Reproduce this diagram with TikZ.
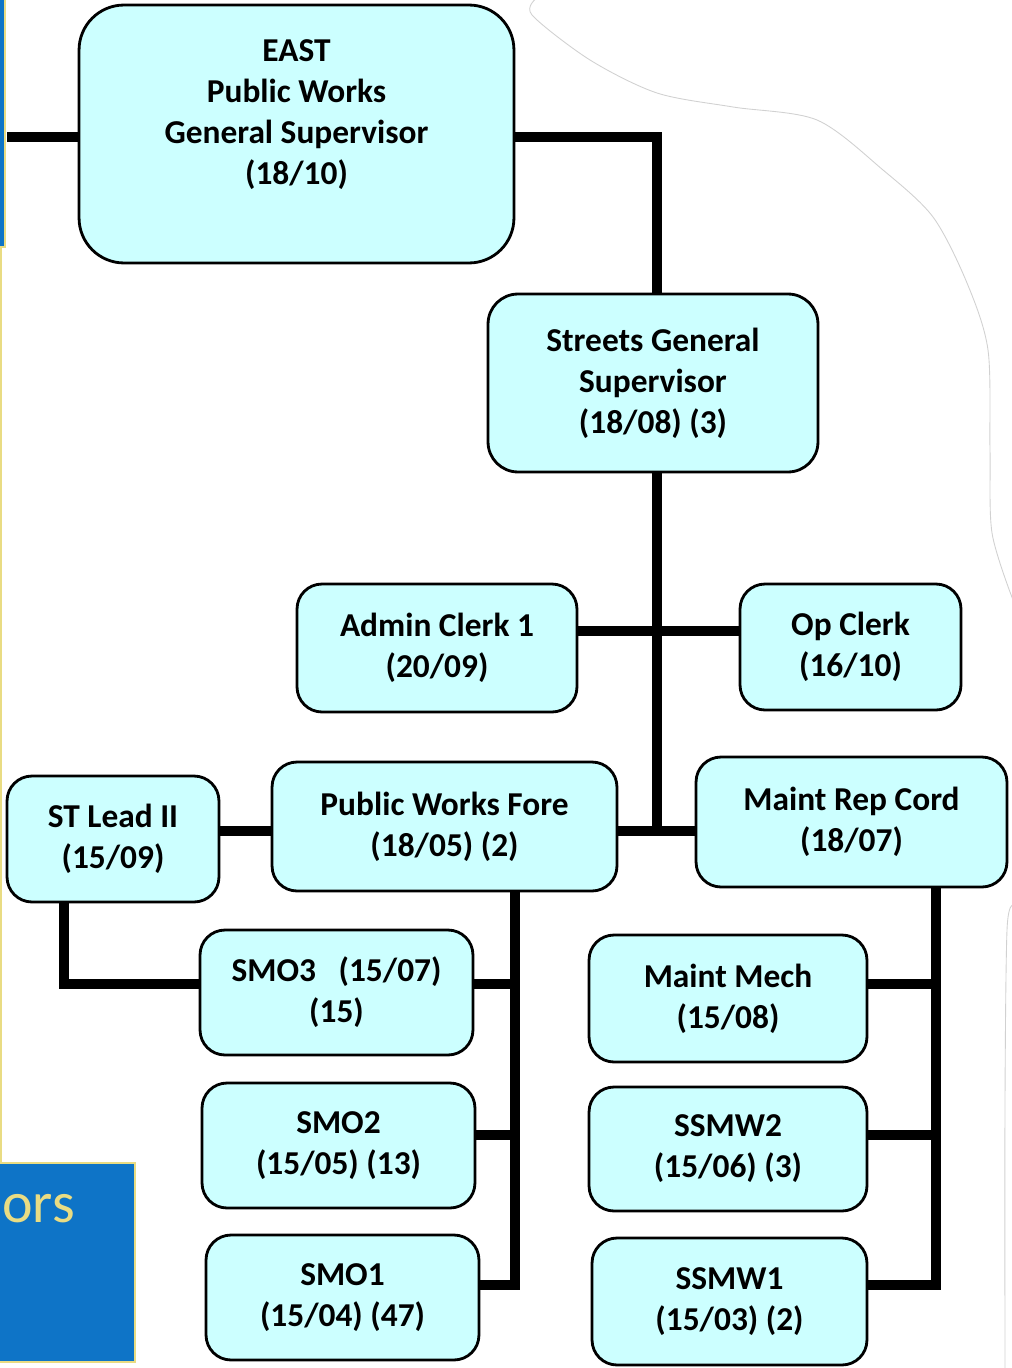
\documentclass[tikz,border=0pt]{standalone}
\usepackage{fontspec}
\setmainfont{Carlito}
\definecolor{postfill}{HTML}{CCFFFF}
\definecolor{slideblue}{HTML}{0E74C7}
\definecolor{slidegold}{HTML}{E9DC83}
\tikzset{
  post/.style={draw=black, line width=1.6pt, fill=postfill, rounded corners=0.5cm,
    align=center, inner sep=0pt, font=\bfseries\fontsize{19}{23.3}\selectfont},
  wire/.style={line width=5.6pt},
}

\begin{document}
\begin{tikzpicture}[x=0.02cm, y=-0.02cm]
\useasboundingbox (0,0) rectangle (1011,1368);

\filldraw[fill=slideblue, draw=slidegold, line width=0.8pt] (-3,-3) rectangle (5,247); % slide bar, top
\draw[slidegold, line width=0.9pt] (1,247) -- (1,1163); % slide edge
\filldraw[fill=slideblue, draw=slidegold, line width=1pt] (-3,1163) rectangle (135,1362); % slide title box
\node[font=\fontsize{33}{40}\selectfont, text=slidegold, anchor=base west, inner sep=0pt] (orsword) at (2,1222) {ors}; % cut title

\draw[black!18, line width=0.5pt] plot[smooth] coordinates {(537,-2) (532,15) (590,60) (657,93) (733,107) (817,120) (883,170) (933,217) (967,283) (988,350) (990,450) (992,533) (1013,600)}; % torn edge, top
\draw[black!18, line width=0.5pt] plot[smooth] coordinates {(1013,905) (1007,930) (1005,1100) (1005,1370)}; % torn edge, bottom

\node[post, minimum width=8.7cm, minimum height=5.16cm, rounded corners=0.9cm, text depth=25pt] (east) at (296.5,134) {EAST\\Public Works\\General Supervisor\\(18/10)}; % top post
\node[post, minimum width=6.6cm, minimum height=3.56cm, rounded corners=0.6cm] (streets) at (653,383) {Streets General\\Supervisor\\(18/08) (3)}; % streets
\node[post, minimum width=5.6cm, minimum height=2.56cm] (admin) at (437,648) {Admin Clerk 1\\(20/09)}; % admin clerk
\node[post, minimum width=4.42cm, minimum height=2.52cm] (opclerk) at (850.5,647) {Op Clerk\\(16/10)}; % op clerk
\node[post, minimum width=4.24cm, minimum height=2.52cm] (stlead) at (113,839) {ST Lead II\\(15/09)}; % lead
\node[post, minimum width=6.9cm, minimum height=2.58cm] (pwfore) at (444.5,826.5) {Public Works Fore\\(18/05) (2)}; % foreman
\node[post, minimum width=6.22cm, minimum height=2.6cm] (maintrep) at (851.5,822) {Maint Rep Cord\\(18/07)}; % maint coordinator

\node[post, minimum width=5.46cm, minimum height=2.5cm] (smo3) at (336.5,992.5) {SMO3~~~(15/07)\\(15)}; % SMO3
\node[post, minimum width=5.46cm, minimum height=2.5cm] (smo2) at (338.5,1145.5) {SMO2\\(15/05) (13)}; % SMO2
\node[post, minimum width=5.46cm, minimum height=2.5cm] (smo1) at (342.5,1297.5) {SMO1\\(15/04) (47)}; % SMO1
\node[post, minimum width=5.56cm, minimum height=2.54cm] (maintmech) at (728,998.5) {Maint Mech\\(15/08)}; % mechanic
\node[post, minimum width=5.56cm, minimum height=2.48cm] (ssmw2) at (728,1149) {SSMW2\\(15/06) (3)}; % SSMW2
\node[post, minimum width=5.5cm, minimum height=2.54cm] (ssmw1) at (729.5,1301.5) {SSMW1\\(15/03) (2)}; % SSMW1

\coordinate (offslide) at (7,137); % line from the slide
\coordinate (spine) at (657,831); % main trunk foot
\coordinate (clerkrow) at (657,631); % clerk cross bar
\coordinate (leadfoot) at (64,984); % lead / SMO3 row
\coordinate (smo2tap) at (515,1135); % SMO2 / SSMW2 row
\coordinate (foretrunk) at (515,1285); % foreman trunk foot
\coordinate (maintrunk) at (936,1285); % maint trunk foot

\draw[wire] (offslide) -- (east.west |- offslide); % slide to EAST
\draw[wire] (east.east |- offslide) -| (spine |- streets.north); % EAST to streets
\draw[wire] (streets.south -| spine) -- (spine); % streets trunk
\draw[wire] (admin.east |- clerkrow) -- (opclerk.west |- clerkrow); % clerks
\draw[wire] (stlead.east |- spine) -- (pwfore.west |- spine); % lead to foreman
\draw[wire] (pwfore.east |- spine) -- (maintrep.west |- spine); % foreman to maint rep
\draw[wire] (stlead.south -| leadfoot) -- (leadfoot) -- (smo3.west |- leadfoot); % lead to SMO3

\draw[wire] (pwfore.south -| foretrunk) -- (foretrunk) -- (smo1.east |- foretrunk); % foreman trunk
\draw[wire] (smo3.east |- leadfoot) -- (foretrunk |- leadfoot); % to SMO3
\draw[wire] (smo2.east |- smo2tap) -- (smo2tap); % to SMO2

\draw[wire] (maintrep.south -| maintrunk) -- (maintrunk) -- (ssmw1.east |- maintrunk); % maint trunk
\draw[wire] (maintmech.east |- leadfoot) -- (maintrunk |- leadfoot); % to maint mech
\draw[wire] (ssmw2.east |- smo2tap) -- (maintrunk |- smo2tap); % to SSMW2

\end{tikzpicture}
\end{document}
